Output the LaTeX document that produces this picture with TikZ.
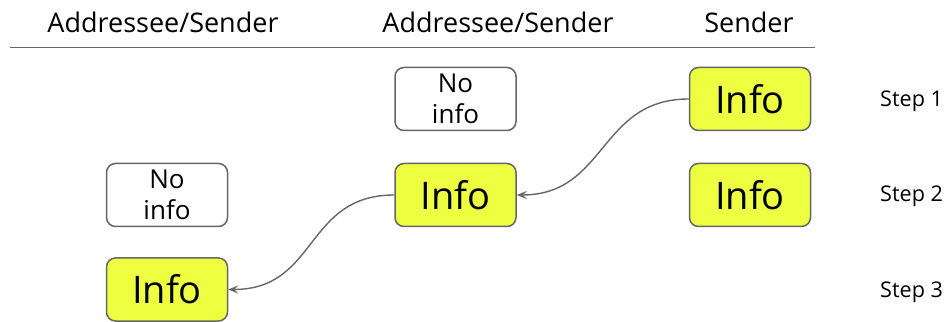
\documentclass[tikz,border=0pt]{standalone}
\usepackage{fontspec}
\setmainfont{Open Sans}
\usetikzlibrary{arrows.meta}
\definecolor{infofill}{HTML}{EEFF41}
\definecolor{edgegray}{HTML}{666666}
\begin{document}
\begin{tikzpicture}[x=1pt,y=1pt,
  box/.style={draw=edgegray, line width=1.5pt, rounded corners=9pt,
    minimum width=121pt, minimum height=63pt, inner sep=0pt, align=center},
  infobox/.style={box, fill=infofill, font=\fontsize{38}{42}\selectfont},
  nobox/.style={box, fill=white, font=\fontsize{26}{31}\selectfont},
  header/.style={font=\fontsize{27}{30}\selectfont, inner sep=0pt},
  steplabel/.style={font=\fontsize{21.6}{25}\selectfont, anchor=west, inner sep=0pt},
  flow/.style={draw=edgegray, line width=1.4pt, -{Stealth[length=10pt,width=8pt,inset=4pt]}}]
\useasboundingbox (0,0) rectangle (944,321);

% column headers and rule
\node[header] (h1) at (163,299) {Addressee/Sender};
\node[header] (h2) at (498,299) {Addressee/Sender};
\node[header] (h3) at (749,299) {Sender};
\draw[edgegray, line width=1.5pt] (10,273.5) -- (815,273.5);

% boxes
\node[nobox]   (n1) at (455.5,222) {No\\info};
\node[infobox] (s1) at (750,222) {Info};
\node[nobox]   (a2) at (167,126) {No\\info};
\node[infobox] (m2) at (455.5,126) {Info};
\node[infobox] (s2) at (750,126) {Info};
\node[infobox] (a3) at (167,31.5) {Info};

% step labels
\node[steplabel] (st1) at (880,220) {Step 1};
\node[steplabel] (st2) at (880,125) {Step 2};
\node[steplabel] (st3) at (880,29) {Step 3};

% information flow
\draw[flow] (s1.west) .. controls +(-90,0) and +(90,0) .. (m2.east);
\draw[flow] (m2.west) .. controls +(-90,0) and +(90,0) .. (a3.east);
\end{tikzpicture}
\end{document}
